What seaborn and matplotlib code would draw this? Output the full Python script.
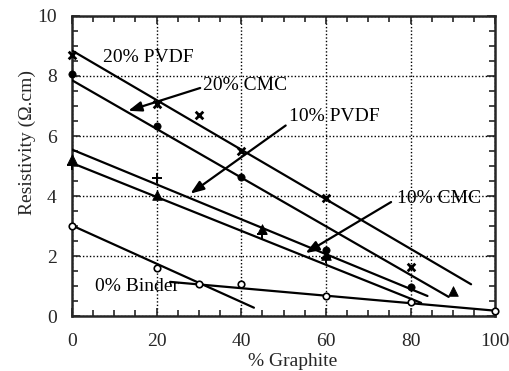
import matplotlib
matplotlib.use("Agg")
import matplotlib.pyplot as plt
import seaborn as sns
from matplotlib.ticker import MultipleLocator

# ---- data ----
pvdf20_x = [0, 20, 30, 40, 60, 80]
pvdf20_y = [8.7, 7.05, 6.7, 5.5, 3.92, 1.62]
cmc20_x = [0, 20, 40, 60, 80]
cmc20_y = [8.05, 6.35, 4.62, 2.2, 0.97]
pvdf10_x = [0, 20, 45, 60]
pvdf10_y = [5.05, 4.6, 2.75, 1.95]
cmc10_x = [0, 20, 45, 60, 90]
cmc10_y = [5.25, 4.05, 2.9, 2.05, 0.82]
binder0_x = [0, 20, 30, 40, 60, 80, 100]
binder0_y = [3.0, 1.6, 1.07, 1.08, 0.68, 0.47, 0.16]

# fitted lines (endpoints)
fit_pvdf20 = ([0, 94.3], [8.85, 1.06])
fit_cmc20 = ([0, 89], [7.86, 0.64])
fit_pvdf10 = ([0, 84], [5.55, 0.67])
fit_cmc10 = ([0, 82.5], [5.1, 0.44])
fit_b0a = ([0, 43], [3.02, 0.28])
fit_b0b = ([23.2, 100], [1.14, 0.18])

sns.set_style("ticks")
plt.rcParams['font.family'] = ['Liberation Serif', 'DejaVu Serif']

fig = plt.figure(figsize=(5.1, 3.71), dpi=100)
ax = fig.add_axes([0.141, 0.148, 0.830, 0.809])

for fx, fy in [fit_pvdf20, fit_cmc20, fit_pvdf10, fit_cmc10, fit_b0a, fit_b0b]:
    sns.lineplot(x=fx, y=fy, ax=ax, color='black', linewidth=1.6, zorder=3)

sns.scatterplot(x=pvdf20_x, y=pvdf20_y, ax=ax, marker='x', s=30, color='black',
                linewidth=2.0, zorder=4, clip_on=False)
sns.scatterplot(x=cmc20_x, y=cmc20_y, ax=ax, marker='o', s=28, color='black',
                edgecolor='black', zorder=4, clip_on=False)
sns.scatterplot(x=pvdf10_x, y=pvdf10_y, ax=ax, marker='+', s=60, color='black',
                linewidth=1.4, zorder=4, clip_on=False)
sns.scatterplot(x=cmc10_x, y=cmc10_y, ax=ax, marker='^', s=48, color='black',
                edgecolor='black', zorder=4, clip_on=False)
sns.scatterplot(x=binder0_x, y=binder0_y, ax=ax, marker='o', s=22, facecolor='white',
                edgecolor='black', linewidth=1.2, zorder=5, clip_on=False)

ax.set_xlim(0, 100)
ax.set_ylim(0, 10)
ax.xaxis.set_major_locator(MultipleLocator(20))
ax.xaxis.set_minor_locator(MultipleLocator(5))
ax.yaxis.set_major_locator(MultipleLocator(2))
ax.yaxis.set_minor_locator(MultipleLocator(0.5))
ax.tick_params(which='both', direction='in', top=True, right=True, width=1.2,
               labelsize=14)
ax.tick_params(axis='x', which='both', pad=12)
ax.tick_params(axis='y', which='both', pad=11)
ax.tick_params(which='major', length=6)
ax.tick_params(which='minor', length=4)
for sp in ax.spines.values():
    sp.set_linewidth(1.8)
    sp.set_visible(True)
ax.grid(True, which='major', linestyle=(0, (1, 1.5)), color='black', linewidth=1.0)

ax.set_xlabel('% Graphite', fontsize=14)
ax.set_ylabel('Resistivity (Ω.cm)', fontsize=14)
ax.xaxis.set_label_coords(0.522, -0.122)
ax.yaxis.set_label_coords(-0.085, 0.58)

txt = dict(fontsize=14, color='black', zorder=6)
ax.text(7.3, 8.6, '20% PVDF', va='center', ha='left', **txt)
ax.text(31, 7.67, '20% CMC', va='center', ha='left', **txt)
ax.text(51.2, 6.64, '10% PVDF', va='center', ha='left', **txt)
ax.text(76.9, 3.92, '10% CMC', va='center', ha='left', **txt)
ax.text(5.5, 0.98, '0% Binder', va='center', ha='left', **txt)

arrow = dict(arrowstyle='-|>,head_length=0.8,head_width=0.3', color='black', lw=1.6,
             shrinkA=0, shrinkB=0)
ax.annotate('', xy=(13.3, 6.84), xytext=(30.3, 7.6), arrowprops=arrow, zorder=6)
ax.annotate('', xy=(28, 4.08), xytext=(50.5, 6.35), arrowprops=arrow, zorder=6)
ax.annotate('', xy=(55.2, 2.1), xytext=(75.4, 3.8), arrowprops=arrow, zorder=6)

fig.savefig('out.png', dpi=100)
